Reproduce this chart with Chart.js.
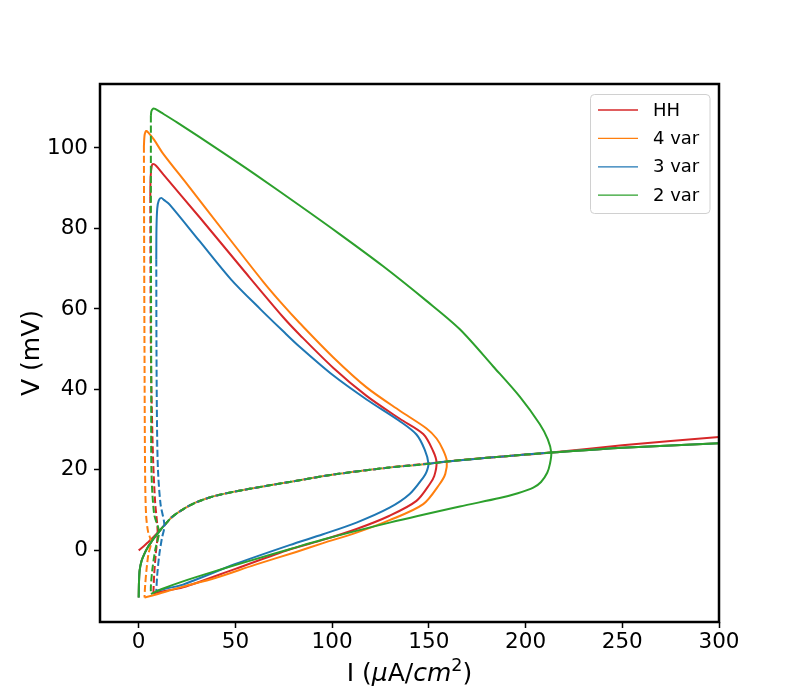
<!DOCTYPE html>
<html>
<head>
<meta charset="utf-8">
<script src="https://cdn.jsdelivr.net/npm/chart.js@4.4.0/dist/chart.umd.min.js"></script>
<style>
  html, body { margin: 0; padding: 0; background: #fff; }
  canvas { display: block; }
</style>
</head>
<body>
<canvas id="myChart" width="800" height="700"></canvas>
<script>
// values, pairs are [I (uA/cm2), V (mV)]
var modelNames = ['HH', '4 var', '3 var', '2 var'];
var modelColors = ['#d62728', '#ff7f0e', '#1f77b4', '#2ca02c'];
var xTicks = [0, 50, 100, 150, 200, 250, 300];
var yTicks = [0, 20, 40, 60, 80, 100];

// equilibrium branch
var hhEquilibrium = [[0,0],[1.5,0.6],[3,1.2],[5,2.1],[7,3.0],[9.8,4.4],[12.6,5.9],[17,8.2],[22.9,10.2],[30,12],[40,13.6],
  [57.3,15.3],[78,17.0],[100,18.8],[129.7,20.6],[154,21.8],[166,22.4],[180,23.0],[200,23.8],[213.3,24.3],[250,26.1],[300,28.2]];
var reducedEquilibrium = [[0,-11.7],[0.15,-8],[0.5,-5],[1.5,-2.6],[3,-0.8],[5,1.0],[6.4,2.0],[8,3.1],[10.5,4.6],[12.6,5.9],
  [13.3,6.2],[17,8.2],[22.9,10.2],[30,12],[40,13.6],[57.3,15.3],[78,17.0],[100,18.8],[129.7,20.6],[149.8,21.5],[159.3,22.1],
  [180,23.0],[200,23.8],[213.3,24.3],[250,25.5],[300,26.6]];

// Hopf points: equilibrium unstable between these currents
var hopfLow = [9.8, 6.4, 13.3, 10.5];
var hopfHigh = [154, 159.3, 149.8, 213.3];

// unstable limit cycles (max and min of V)
var hhCycleUnstable = [[6.0,88],[6.1,70],[6.3,50],[6.8,35],[7.5,22],[8.5,12],[9.8,4.4],[8.8,-1],[8.0,-6],[7.6,-10.7]];
var var4CycleUnstable = [[2.7,100.5],[2.8,80],[3.0,50],[3.3,20],[3.8,9],[4.8,4.8],[6.4,2.0],[5.0,-1],[4.0,-5],[3.3,-9],[3.0,-11.7]];
var var3CycleUnstable = [[9.1,72.2],[9.2,50],[9.5,30],[10,19.7],[11.3,11.5],[13.3,6.2],[12,3],[10.7,-0.9],[9.6,-6],[9.1,-10.1]];
var var2CycleUnstable = [[6.3,108],[6.3,90],[6.4,60],[6.5,40],[6.6,19.7],[8,9],[10.5,4.6],[8.5,0],[7,-5],[6.3,-9],[6.3,-10.8]];

// stable limit cycles (max then min of V)
var hhCycleStable = [[6.0,88],[6.2,93],[6.8,95.6],[7.4,96],[9,95.6],[12.6,93.5],[31.8,82.6],[53.9,69.8],[74.6,58],[83.2,53.6],
  [100.5,45.4],[117.8,38.4],[135,32.7],[147.1,28.9],[152.2,24.7],[154,21.8],[152.8,18.5],[150.5,16.5],[143.6,12.3],[129.7,8.6],
  [112.6,5.3],[95.3,2.6],[78,0.2],[50,-4.6],[22.9,-9.2],[12,-10.2],[7.6,-10.7]];
var var4CycleStable = [[2.7,100.5],[3.0,103],[3.5,104],[4.0,104.2],[5,103.8],[8,102],[12.6,98.6],[25,91],[45.2,78.5],[64.3,66.8],
  [74.6,61.0],[83.2,56.5],[100.5,48.0],[117.8,40.5],[135,34.7],[148.8,30.3],[154,27.8],[157.4,24.9],[159.3,22.2],[158.5,19],
  [155.6,16.5],[147.1,11.5],[129.7,7.5],[112.6,4.4],[95.3,1.8],[81.4,-0.4],[60,-3.6],[40,-6.8],[20,-9.4],[8,-11.1],[3.0,-11.7]];
var var3CycleStable = [[9.1,72.2],[9.2,80],[9.6,85],[10.4,87.0],[11.7,87.6],[13,87.1],[15.9,86],[31.4,76.9],[47.8,67.3],
  [63,59.9],[74.6,54.5],[83.2,50.6],[100.5,43.5],[117.8,37.5],[135,32.1],[143.6,28.8],[147.9,25.0],[149.8,21.6],[148.8,19.5],
  [147.1,18.1],[140.1,14.0],[129.7,10.6],[112.6,6.9],[95.3,4.0],[78,1.3],[50,-3.4],[22.9,-8.5],[14,-9.5],[9.1,-10.1]];
var var2CycleStable = [[6.3,108],[6.6,109.2],[7.5,109.8],[8.5,109.7],[12,108.7],[20,106.3],[41.8,99.4],[60,93.5],[83.2,85.7],
  [103.9,78.6],[126.4,70.6],[148.8,62.0],[165.9,55.0],[183.3,45.7],[197,38.2],[207.3,31.4],[211.5,27.6],[213.3,24.3],
  [212.6,21.5],[211.2,19.3],[208,17.0],[204,15.6],[196,14.2],[186.6,13.0],[166,10.9],[129.7,6.9],[95.3,2.7],[78,0.3],
  [57.3,-2.6],[40,-5.1],[22.9,-7.7],[12,-9.6],[6.3,-10.8]];

var equilibria = [hhEquilibrium, reducedEquilibrium, reducedEquilibrium, reducedEquilibrium];
var cyclesUnstable = [hhCycleUnstable, var4CycleUnstable, var3CycleUnstable, var2CycleUnstable];
var cyclesStable = [hhCycleStable, var4CycleStable, var3CycleStable, var2CycleStable];

function xy(pts) {
  return pts.map(function(p) { return { x: p[0], y: p[1] }; });
}
function pick(pts, lo, hi) {
  return xy(pts.filter(function(p) { return p[0] >= lo && p[0] <= hi; }));
}
function line(data, k, dashed) {
  return {
    label: modelNames[k],
    data: data,
    showLine: true,
    borderColor: modelColors[k],
    backgroundColor: modelColors[k],
    borderWidth: 2,
    borderDash: dashed ? [7, 3] : [],
    pointRadius: 0,
    pointHoverRadius: 0,
    tension: 0.3,
    fill: false
  };
}

var datasets = [];
for (var k = 0; k < 4; k++) {
  var eq = equilibria[k];
  datasets.push(line(pick(eq, 0, hopfLow[k]), k, false));
  datasets.push(line(pick(eq, hopfLow[k], hopfHigh[k]), k, true));
  datasets.push(line(pick(eq, hopfHigh[k], 300), k, false));
  datasets.push(line(xy(cyclesUnstable[k]), k, true));
  datasets.push(line(xy(cyclesStable[k]), k, false));
}
// later datasets on top, like the original plotting order
datasets.forEach(function(d, i) { d.order = 100 - i; });

var decorations = {
  id: 'decorations',
  afterDraw: function(chart) {
    var ctx = chart.ctx, a = chart.chartArea;
    ctx.save();

    // frame
    ctx.strokeStyle = '#000';
    ctx.lineWidth = 2.5;
    ctx.strokeRect(a.left, a.top, a.right - a.left, a.bottom - a.top);

    // legend box
    var bx = 590.5, by = 94.5, bw = 119.5, bh = 119, r = 4;
    ctx.beginPath();
    ctx.moveTo(bx + r, by);
    ctx.arcTo(bx + bw, by, bx + bw, by + bh, r);
    ctx.arcTo(bx + bw, by + bh, bx, by + bh, r);
    ctx.arcTo(bx, by + bh, bx, by, r);
    ctx.arcTo(bx, by, bx + bw, by, r);
    ctx.closePath();
    ctx.fillStyle = 'rgba(255,255,255,0.8)';
    ctx.fill();
    ctx.strokeStyle = '#d0d0d0';
    ctx.lineWidth = 1;
    ctx.stroke();
    ctx.font = '18px "DejaVu Sans"';
    ctx.textBaseline = 'middle';
    ctx.fillStyle = '#000';
    for (var i = 0; i < modelNames.length; i++) {
      var ry = 110 + i * 28.4;
      ctx.strokeStyle = modelColors[i];
      ctx.lineWidth = 1.3;
      ctx.beginPath();
      ctx.moveTo(598, ry);
      ctx.lineTo(638, ry);
      ctx.stroke();
      ctx.fillText(modelNames[i], 653, ry + 1);
    }

    // x axis label: I (μA/cm²)
    var normal = '25px "DejaVu Sans"', italic = 'oblique 25px "DejaVu Sans"', small = '17.5px "DejaVu Sans"';
    var parts = [['I (', normal, 0], ['\u03bc', italic, 0], ['A/', normal, 0], ['cm', italic, 0], ['2', small, -10], [')', normal, 0]];
    var total = 0;
    parts.forEach(function(p) { ctx.font = p[1]; total += ctx.measureText(p[0]).width; });
    var x = (a.left + a.right) / 2 - total / 2;
    ctx.textBaseline = 'alphabetic';
    ctx.textAlign = 'left';
    parts.forEach(function(p) {
      ctx.font = p[1];
      ctx.fillText(p[0], x, 681 + p[2]);
      x += ctx.measureText(p[0]).width;
    });

    // y axis label
    ctx.translate(32, (a.top + a.bottom) / 2);
    ctx.rotate(-Math.PI / 2);
    ctx.font = normal;
    ctx.textAlign = 'center';
    ctx.textBaseline = 'middle';
    ctx.fillText('V (mV)', 0, 0);

    ctx.restore();
  }
};

var tickFont = { family: 'DejaVu Sans', size: 21.5 };
var ctx = document.getElementById('myChart').getContext('2d');
var myChart = new Chart(ctx, {
  type: 'scatter',
  data: { datasets: datasets },
  options: {
    responsive: false,
    animation: false,
    devicePixelRatio: 1,
    layout: { padding: { top: 84, right: 81, left: 0, bottom: 0 } },
    plugins: {
      legend: { display: false },
      tooltip: { enabled: false }
    },
    scales: {
      x: {
        type: 'linear',
        min: -20,
        max: 300,
        afterBuildTicks: function(s) { s.ticks = xTicks.map(function(v) { return { value: v }; }); },
        afterFit: function(s) { s.height = 78; },
        grid: { drawOnChartArea: false, drawTicks: true, tickLength: 6, tickWidth: 1.5, tickColor: '#000' },
        border: { display: false },
        ticks: { color: '#000', font: tickFont, padding: 2, maxRotation: 0 }
      },
      y: {
        type: 'linear',
        min: -17.8,
        max: 115.9,
        afterBuildTicks: function(s) { s.ticks = yTicks.map(function(v) { return { value: v }; }); },
        afterFit: function(s) { s.width = 100; },
        grid: { drawOnChartArea: false, drawTicks: true, tickLength: 6, tickWidth: 1.5, tickColor: '#000' },
        border: { display: false },
        ticks: { color: '#000', font: tickFont, padding: 6 }
      }
    }
  },
  plugins: [decorations]
});
</script>
</body>
</html>
